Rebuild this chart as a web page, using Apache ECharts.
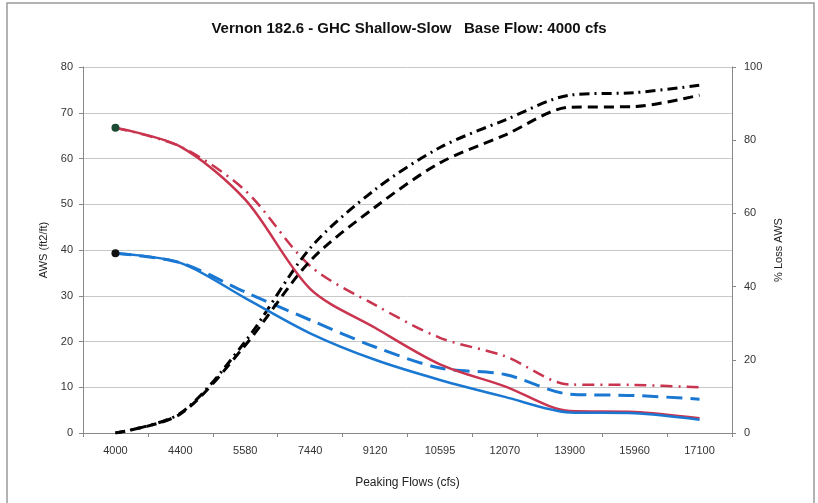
<!DOCTYPE html>
<html>
<head>
<meta charset="utf-8">
<script src="https://cdn.jsdelivr.net/npm/echarts@6/dist/echarts.min.js"></script>
<style>html,body{margin:0;padding:0;background:#fff}#c{width:818px;height:503px}</style>
</head>
<body>
<div id="c"></div>
<script>
const categories = ['4000','4400','5580','7440','9120','10595','12070','13900','15960','17100'];
const leftTicks = [0,10,20,30,40,50,60,70,80];
const rightTicks = [0,20,40,60,80,100];
// AWS (ft2/ft)
const redSolid   = [66.7, 62.6, 51.0, 31.5, 23.0, 15.0, 10.2, 4.8, 4.6, 3.2];
const redDashDot = [66.7, 62.6, 53.0, 36.5, 28.0, 20.8, 16.8, 10.6, 10.5, 10.0];
const blueSolid  = [39.3, 37.2, 29.5, 21.8, 16.0, 11.6, 7.9, 4.5, 4.3, 2.9];
const blueDashed = [39.3, 37.2, 30.8, 24.7, 18.8, 14.2, 12.8, 8.5, 8.2, 7.4];
// % Loss AWS
const lossDashDot = [0, 5.4, 25.0, 50.5, 66.5, 78.0, 85.5, 92.3, 93.0, 95.0];
const lossDashed  = [0, 5.2, 24.0, 47.0, 61.7, 73.8, 81.4, 89.0, 89.2, 92.3];

const RED = '#C9344F', BLUE = '#1A78D2';
function firstDot(arr, color) {
  return arr.map((v, i) => i === 0 ? {value: v, symbol: 'circle', symbolSize: 8, itemStyle: {color: color}} : v);
}
const chart = echarts.init(document.getElementById('c'), null, {renderer: 'canvas'});
const font = 'Liberation Sans, Arial, sans-serif';
chart.setOption({
  animation: false,
  backgroundColor: '#fff',
  title: {
    text: 'Vernon 182.6 - GHC Shallow-Slow   Base Flow: 4000 cfs',
    left: 'center', top: 16,
    textStyle: {fontFamily: font, fontSize: 15, fontWeight: 'bold', color: '#111'}
  },
  graphic: [{
    type: 'rect', shape: {x: 7, y: 3, width: 807, height: 510},
    style: {fill: 'none', stroke: '#9a9a9a', lineWidth: 1.5}, silent: true
  }],
  grid: {left: 83, right: 86, top: 67, bottom: 70},
  xAxis: {
    type: 'category', data: categories, boundaryGap: true,
    name: 'Peaking Flows (cfs)', nameLocation: 'middle', nameGap: 44,
    nameTextStyle: {fontFamily: font, fontSize: 12, color: '#222'},
    axisLine: {lineStyle: {color: '#888', width: 1}},
    axisTick: {show: true, length: 4, lineStyle: {color: '#888'}},
    axisLabel: {fontFamily: font, fontSize: 11, color: '#333', margin: 12}
  },
  yAxis: [{
    type: 'value', min: 0, max: 80, interval: 10,
    name: 'AWS (ft2/ft)', nameLocation: 'middle', nameGap: 34, nameRotate: 90,
    nameTextStyle: {fontFamily: font, fontSize: 11, color: '#222'},
    axisLine: {show: true, lineStyle: {color: '#888'}},
    axisTick: {show: true, length: 4, lineStyle: {color: '#888'}},
    axisLabel: {fontFamily: font, fontSize: 11, color: '#333', margin: 10},
    splitLine: {show: true, lineStyle: {color: '#c8c8c8', width: 1}}
  }, {
    type: 'value', min: 0, max: 100, interval: 20,
    name: '% Loss AWS', nameLocation: 'middle', nameGap: 39, nameRotate: 90,
    nameTextStyle: {fontFamily: font, fontSize: 11, color: '#222'},
    axisLine: {show: true, lineStyle: {color: '#888'}},
    axisTick: {show: true, length: 4, lineStyle: {color: '#888'}},
    axisLabel: {fontFamily: font, fontSize: 11, color: '#333', margin: 12},
    splitLine: {show: false}
  }],
  series: [
    {name: 'Red dash-dot', type: 'line', yAxisIndex: 0, smooth: 0.3, symbol: 'none',
     data: redDashDot, lineStyle: {color: RED, width: 2.5, type: [12, 6, 2, 6]}},
    {name: 'Blue dashed', type: 'line', yAxisIndex: 0, smooth: 0.3, symbol: 'none',
     data: blueDashed, lineStyle: {color: BLUE, width: 3, type: [16, 8]}},
    {name: 'Loss dash-dot', type: 'line', yAxisIndex: 1, smooth: 0.3, symbol: 'none',
     data: lossDashDot, lineStyle: {color: '#000', width: 3, type: [10, 5, 2, 5]}},
    {name: 'Loss dashed', type: 'line', yAxisIndex: 1, smooth: 0.3, symbol: 'none',
     data: lossDashed, lineStyle: {color: '#000', width: 3, type: [10, 6]}},
    {name: 'Red solid', type: 'line', yAxisIndex: 0, smooth: 0.3, symbol: 'none', showSymbol: true,
     data: firstDot(redSolid, '#1d4a35'), lineStyle: {color: RED, width: 2.5}},
    {name: 'Blue solid', type: 'line', yAxisIndex: 0, smooth: 0.3, symbol: 'none', showSymbol: true,
     data: firstDot(blueSolid, '#111'), lineStyle: {color: BLUE, width: 2.5}}
  ]
});
</script>
</body>
</html>
